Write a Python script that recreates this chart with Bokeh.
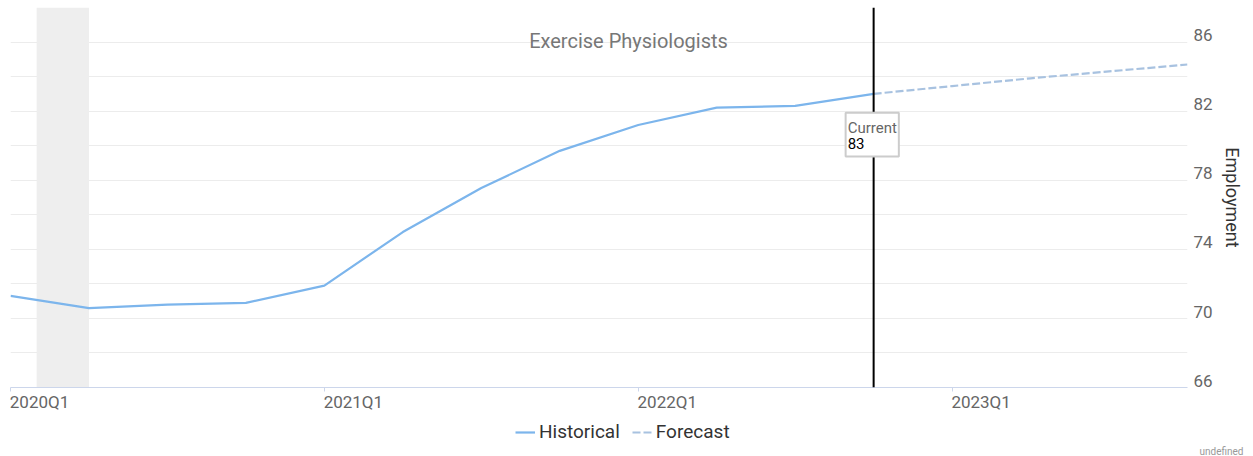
from bokeh.plotting import figure
from bokeh.layouts import column
from bokeh.models import (FixedTicker, Span, BoxAnnotation, Label, Legend, LegendItem,
                          ColumnDataSource, Range1d, LinearAxis, Title)
from bokeh.embed import file_html
from bokeh.resources import INLINE

# ---- data ----
quarters = ["2020Q1", "2020Q2", "2020Q3", "2020Q4",
            "2021Q1", "2021Q2", "2021Q3", "2021Q4",
            "2022Q1", "2022Q2", "2022Q3", "2022Q4",
            "2023Q1", "2023Q2", "2023Q3", "2023Q4"]
hist_quarters = quarters[:12]
hist_values = [71.3, 70.6, 70.8, 70.9, 71.9, 75.0, 77.55, 79.7, 81.2, 82.2, 82.3, 83.0]
fc_quarters = quarters[11:]
fc_values = [83.0, 83.45, 83.9, 84.3, 84.7]
current_quarter = "2022Q4"
current_label = "83"
recession_start_month = 2   # Feb 2020
recession_end_month = 4     # Apr 2020
year_ticks = ["2020Q1", "2021Q1", "2022Q1", "2023Q1"]
y_ticks = [66, 70, 74, 78, 82, 86]
y_grid = [66, 68, 70, 72, 74, 76, 78, 80, 82, 84, 86, 88]

FONT = "Roboto"
HIST_COLOR = "#7cb5ec"
FC_COLOR = "#a8c2e0"
FC_DASH = "8 3"
X_LABEL_SHIFT = 0.37  # x tick labels start at their tick (quarter units)
Y_LABEL_SHIFT = 0.4   # y tick labels sit just above their grid line (value units)

qidx = {q: i for i, q in enumerate(quarters)}
hx = [qidx[q] for q in hist_quarters]
fx = [qidx[q] for q in fc_quarters]

W = 1245
p = figure(width=W, height=414, output_backend="svg", toolbar_location=None,
           y_axis_location="right",
           x_range=Range1d(0, len(quarters) - 1), y_range=Range1d(66, 88),
           min_border_left=10, min_border_top=7, min_border_right=58, min_border_bottom=27)
p.outline_line_color = None
p.background_fill_color = "white"

# grid
p.xgrid.visible = False
p.ygrid.ticker = FixedTicker(ticks=y_grid)
p.ygrid.grid_line_color = "#ececec"
p.ygrid.grid_line_width = 1

# recession band
band = BoxAnnotation(left=(recession_start_month - 1) / 3.0, right=(recession_end_month - 1) / 3.0,
                     fill_color="#eeeeee", fill_alpha=1.0, line_color=None, level="underlay")
p.add_layout(band)

src_h = ColumnDataSource(dict(x=hx, y=hist_values))
src_f = ColumnDataSource(dict(x=fx, y=fc_values))
p.line("x", "y", source=src_h, line_color=HIST_COLOR, line_width=2.2)
p.line("x", "y", source=src_f, line_color=FC_COLOR, line_width=2.2, line_dash=FC_DASH)

# x axis: line + tick marks
xa = p.xaxis[0]
xa.ticker = FixedTicker(ticks=[qidx[q] for q in year_ticks])
xa.major_label_overrides = {qidx[q]: "" for q in year_ticks}
xa.major_label_text_font_size = "1px"
xa.major_label_standoff = 0
xa.minor_tick_line_color = None
xa.axis_line_color = "#ccd6eb"
xa.major_tick_line_color = "#ccd6eb"
xa.major_tick_in = 0
xa.major_tick_out = 4

# x axis labels, left-aligned to their ticks
xlab_pos = [qidx[q] + X_LABEL_SHIFT for q in year_ticks]
xa2 = LinearAxis(ticker=FixedTicker(ticks=xlab_pos),
                 major_label_overrides={pos: q for pos, q in zip(xlab_pos, year_ticks)},
                 axis_line_color=None, major_tick_line_color=None, minor_tick_line_color=None,
                 major_tick_in=0, major_tick_out=0, minor_tick_in=0, minor_tick_out=0,
                 major_label_standoff=0, major_label_text_font=FONT,
                 major_label_text_font_size="17px", major_label_text_color="#666666")
p.add_layout(xa2, "below")

# y axis (labels just above their grid lines)
ylab_pos = [v + Y_LABEL_SHIFT for v in y_ticks]
ya = p.yaxis[0]
ya.ticker = FixedTicker(ticks=ylab_pos)
ya.major_label_overrides = {pos: str(v) for pos, v in zip(ylab_pos, y_ticks)}
ya.axis_line_color = None
ya.major_tick_line_color = None
ya.minor_tick_line_color = None
ya.major_tick_in = 0
ya.major_tick_out = 0
ya.minor_tick_out = 0
ya.major_label_text_font = FONT
ya.major_label_text_font_size = "17px"
ya.major_label_text_color = "#666666"
ya.major_label_standoff = 6
ya.axis_label = "Employment"
ya.axis_label_text_font = FONT
ya.axis_label_text_font_size = "18px"
ya.axis_label_text_font_style = "normal"
ya.axis_label_text_color = "#333333"
ya.axis_label_standoff = 6

# current line
cx = qidx[current_quarter]
cy = hist_values[hist_quarters.index(current_quarter)]
p.add_layout(Span(location=cx, dimension="height", line_color="black", line_width=2))

box = Label(x=cx, y=cy, text="Current\n" + current_label, x_offset=-28, y_offset=-19,
            text_baseline="top", text_align="left", text_font=FONT, text_font_size="15px",
            text_color="white", background_fill_color="white", background_fill_alpha=1.0,
            border_line_color="#cccccc", border_line_width=2, padding=2)
lab_c = Label(x=cx, y=cy, text="Current", x_offset=-26, y_offset=-25,
              text_baseline="top", text_align="left", text_font=FONT, text_font_size="15px",
              text_color="#666666")
lab_v = Label(x=cx, y=cy, text=current_label, x_offset=-26, y_offset=-44,
              text_baseline="top", text_align="left", text_font=FONT, text_font_size="15px",
              text_color="black")
p.add_layout(box)
p.add_layout(lab_c)
p.add_layout(lab_v)

# title inside plot
p.add_layout(Label(x=618, y=347, x_units="screen", y_units="screen", text="Exercise Physiologists",
                   text_align="center", text_baseline="middle", text_font=FONT,
                   text_font_size="20px", text_color="#777777"))

# ---- legend strip (its frame is aligned with the chart's frame by the column layout) ----
q = figure(width=W, height=42, output_backend="svg", toolbar_location=None,
           x_axis_location=None, y_axis_location=None,
           x_range=Range1d(0, W), y_range=Range1d(0, 42),
           min_border_left=0, min_border_right=0, min_border_top=0, min_border_bottom=0)
q.outline_line_color = None
q.grid.visible = False
# legend-only renderers (their values fall outside this strip's range, so only the legend shows them)
lh = q.line(x=hx, y=hist_values, line_color=HIST_COLOR, line_width=2.2)
lf = q.line(x=fx, y=fc_values, line_color=FC_COLOR, line_width=2.2, line_dash=FC_DASH)
legend = Legend(items=[LegendItem(label="Historical", renderers=[lh]),
                       LegendItem(label="Forecast", renderers=[lf])],
                orientation="horizontal", location=(505, 0),
                label_text_font=FONT, label_text_font_size="19px", label_text_color="#333333",
                glyph_width=20, glyph_height=20, label_standoff=4, spacing=12,
                padding=0, margin=0, border_line_color=None, background_fill_alpha=0)
q.add_layout(legend, "center")
q.add_layout(Title(text="undefined", align="right", text_font=FONT, text_font_size="10px",
                   text_font_style="normal", text_color="#999999", standoff=0, offset=-56),
             "below")

open("out.html", "w").write(file_html(column(p, q, spacing=0), INLINE))
